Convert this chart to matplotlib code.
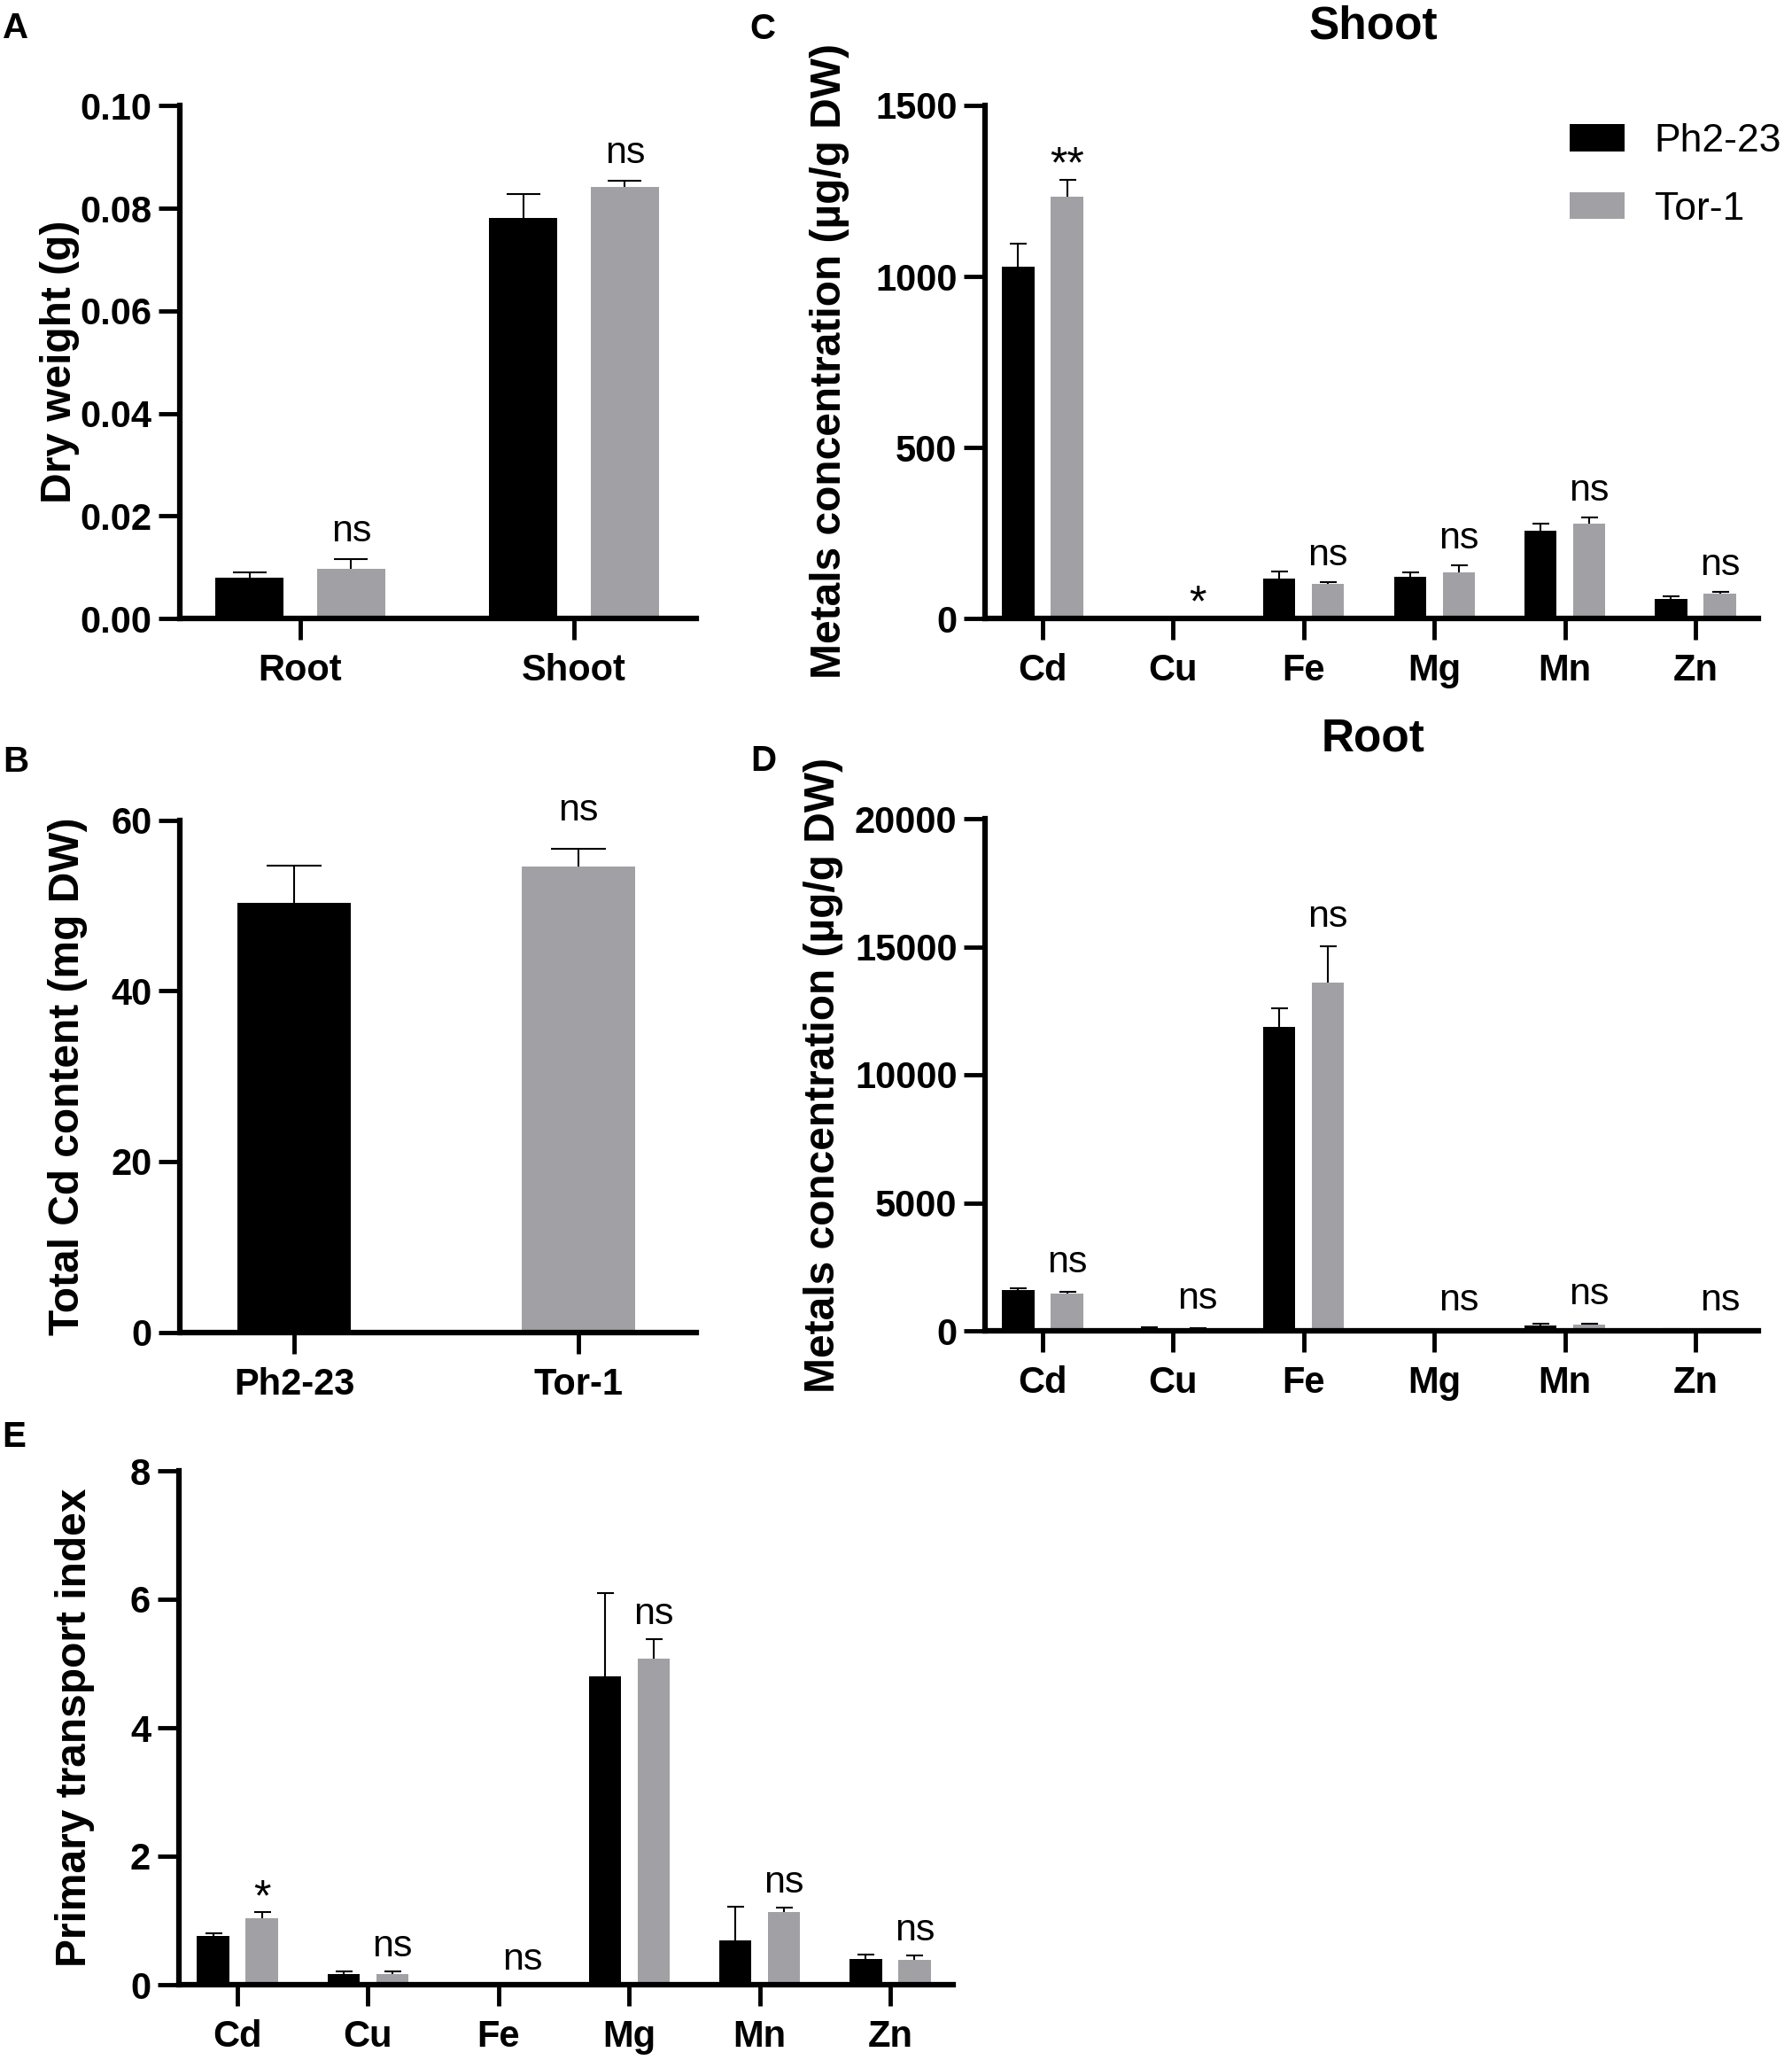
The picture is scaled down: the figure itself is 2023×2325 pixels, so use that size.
import matplotlib
matplotlib.use('Agg')
import matplotlib.pyplot as plt
import numpy as np

plt.rcParams['font.family'] = ['Liberation Sans', 'DejaVu Sans']

W, H = 2024, 2325
DPI = 100
BLACK = '#000000'
GREY = '#a1a1a5'

# ---------------- data ----------------
# Panel A: dry weight (g)
a_categories = ['Root', 'Shoot']
a_ph = [0.0079, 0.0781]
a_ph_err = [0.0010, 0.0046]
a_tor = [0.0097, 0.0841]
a_tor_err = [0.0019, 0.0013]
a_sig = ['ns', 'ns']
a_yticks = [0.00, 0.02, 0.04, 0.06, 0.08, 0.10]
a_ytick_labels = ['0.00', '0.02', '0.04', '0.06', '0.08', '0.10']

# Panel B: total Cd content
b_categories = ['Ph2-23', 'Tor-1']
b_values = [50.3, 54.55]
b_err = [4.4, 2.1]
b_sig = ['', 'ns']
b_yticks = [0, 20, 40, 60]

# Panels C/D/E: metals
metals = ['Cd', 'Cu', 'Fe', 'Mg', 'Mn', 'Zn']

c_ph = [1028, 3, 117, 123, 257, 57]
c_ph_err = [69, 0, 21, 13, 21, 7]
c_tor = [1234, 2, 102, 136, 278, 72]
c_tor_err = [49, 0, 4, 19, 17, 5]
c_sig = ['**', '*', 'ns', 'ns', 'ns', 'ns']
c_yticks = [0, 500, 1000, 1500]

d_ph = [1589, 110, 11879, 20, 220, 50]
d_ph_err = [76, 20, 731, 5, 40, 10]
d_tor = [1438, 80, 13594, 15, 230, 30]
d_tor_err = [100, 20, 1437, 5, 60, 10]
d_sig = ['ns', 'ns', 'ns', 'ns', 'ns', 'ns']
d_yticks = [0, 5000, 10000, 15000, 20000]

e_ph = [0.755, 0.171, 0.0, 4.80, 0.694, 0.40]
e_ph_err = [0.05, 0.03, 0.0, 1.30, 0.52, 0.07]
e_tor = [1.036, 0.171, 0.0, 5.07, 1.127, 0.38]
e_tor_err = [0.091, 0.03, 0.0, 0.31, 0.073, 0.08]
e_sig = ['*', 'ns', 'ns', 'ns', 'ns', 'ns']
e_yticks = [0, 2, 4, 6, 8]

legend_labels = ['Ph2-23', 'Tor-1']

# ---------------- figure ----------------
fig = plt.figure(figsize=(W / DPI, H / DPI), dpi=DPI)

TICK_FS = 30
LABEL_FS = 34.5
ANN_FS = 31
STAR_FS = 36
SPINE_LW = 4.5


def fx(x):
    return x / W


def fy(y):
    return 1 - y / H


def make_ax(left, right, top, bottom):
    return fig.add_axes([left / W, 1 - bottom / H, (right - left) / W, (bottom - top) / H])


def style(ax, xlim, ylim, yticks, ytick_labels, xticks, xtick_labels):
    ax.set_xlim(*xlim)
    ax.set_ylim(*ylim)
    for s in ['top', 'right']:
        ax.spines[s].set_visible(False)
    for s in ['left', 'bottom']:
        ax.spines[s].set_linewidth(SPINE_LW)
        ax.spines[s].set_capstyle('projecting')
    ax.set_yticks(yticks)
    ax.set_yticklabels(ytick_labels, fontsize=TICK_FS, fontweight='bold')
    ax.set_xticks(xticks)
    ax.set_xticklabels(xtick_labels, fontsize=TICK_FS, fontweight='bold')
    ax.tick_params(axis='both', length=17, width=3.5, direction='out')
    ax.tick_params(axis='y', pad=6)
    ax.tick_params(axis='x', pad=11)
    ax.patch.set_visible(False)


def bars(ax, x, vals, errs, color, width, cap_px, label=None):
    cont = ax.bar(x, vals, width=width, color=color, edgecolor='none', zorder=2, label=label)
    eb = ax.errorbar(x, vals, yerr=[np.zeros(len(vals)), errs], fmt='none',
                     ecolor='black', elinewidth=1.5, capthick=1.5,
                     capsize=cap_px * 0.36, zorder=3)
    eb[1][0].set_visible(False)
    return cont


def annotate(ax, xs, tops, sigs, gap_ns, gap_star=2):
    for x, t, s in zip(xs, tops, sigs):
        if not s:
            continue
        star = '*' in s
        gap = gap_star if star else gap_ns
        ax.annotate(s, xy=(x, t), xytext=(0, gap * 0.72), textcoords='offset points',
                    ha='center', va='baseline', fontsize=STAR_FS if star else ANN_FS,
                    zorder=4)


def ylabel(x, y, text):
    fig.text(fx(x), fy(y), text, rotation=90, rotation_mode='anchor', ha='center',
             va='baseline', fontsize=LABEL_FS, fontweight='bold')


def letter(x, y, s):
    fig.text(fx(x), fy(y), s, ha='left', va='baseline', fontsize=29, fontweight='bold')


OFF = 0.1866
BW = 0.245

# ---- Panel A ----
axA = make_ax(203.5, 786, 119.3, 698)
xa = np.arange(len(a_categories))
bars(axA, xa - 0.186, a_ph, a_ph_err, BLACK, 0.249, 38)
bars(axA, xa + 0.186, a_tor, a_tor_err, GREY, 0.249, 38)
style(axA, (-0.4385, 1.4466), (0, 0.10), a_yticks, a_ytick_labels, xa, a_categories)
annotate(axA, xa + 0.186, np.array(a_tor) + np.array(a_tor_err), a_sig, 20)
ylabel(80, 408, 'Dry weight (g)')
letter(3, 43, 'A')

# ---- Panel B ----
axB = make_ax(203.5, 786, 925.6, 1503.7)
xb = np.arange(len(b_categories))
bars(axB, xb, b_values, b_err, [BLACK, GREY], 0.4, 62)
style(axB, (-0.4003, 1.4143), (0, 60), b_yticks, [str(v) for v in b_yticks], xb, b_categories)
annotate(axB, xb, np.array(b_values) + np.array(b_err), b_sig, 32)
ylabel(89, 1215, 'Total Cd content (mg DW)')
letter(3, 871, 'B')

xm = np.arange(len(metals))

# ---- Panel C ----
axC = make_ax(1112.5, 1985, 119, 698)
hc1 = bars(axC, xm - OFF, c_ph, c_ph_err, BLACK, BW, 19, label=legend_labels[0])
hc2 = bars(axC, xm + OFF, c_tor, c_tor_err, GREY, BW, 19, label=legend_labels[1])
style(axC, (-0.4376, 5.4817), (0, 1500), c_yticks, [str(v) for v in c_yticks], xm, metals)
annotate(axC, xm + OFF, np.array(c_tor) + np.array(c_tor_err), c_sig, 19)
ylabel(949, 408, 'Metals concentration (µg/g DW)')
fig.text(fx(1550), fy(44), 'Shoot', ha='center', va='baseline', fontsize=37, fontweight='bold')
letter(846, 44, 'C')
axC.legend(handles=[hc1, hc2], labels=legend_labels, loc='upper left',
           bbox_to_anchor=(fx(1772), fy(139)), bbox_transform=fig.transFigure,
           frameon=False, fontsize=32, handlelength=1.4, handleheight=0.68,
           handletextpad=0.75, labelspacing=0.8, borderpad=0, borderaxespad=0)

# ---- Panel D ----
axD = make_ax(1112.5, 1985, 924, 1502)
bars(axD, xm - OFF, d_ph, d_ph_err, BLACK, BW, 19)
bars(axD, xm + OFF, d_tor, d_tor_err, GREY, BW, 19)
style(axD, (-0.4376, 5.4817), (0, 20000), d_yticks, [str(v) for v in d_yticks], xm, metals)
annotate(axD, xm + OFF, np.array(d_tor) + np.array(d_tor_err), d_sig, 22)
ylabel(942, 1213, 'Metals concentration (µg/g DW)')
fig.text(fx(1550), fy(847), 'Root', ha='center', va='baseline', fontsize=37, fontweight='bold')
letter(847, 870, 'D')

# ---- Panel E ----
axE = make_ax(202, 1076, 1660, 2240)
bars(axE, xm - OFF, e_ph, e_ph_err, BLACK, BW, 19)
bars(axE, xm + OFF, e_tor, e_tor_err, GREY, BW, 19)
style(axE, (-0.448, 5.482), (0, 8), e_yticks, [str(v) for v in e_yticks], xm, metals)
annotate(axE, xm + OFF, np.array(e_tor) + np.array(e_tor_err), e_sig, 17)
ylabel(97, 1950, 'Primary transport index')
letter(2, 1633, 'E')

fig.savefig('out.png', dpi=DPI)
